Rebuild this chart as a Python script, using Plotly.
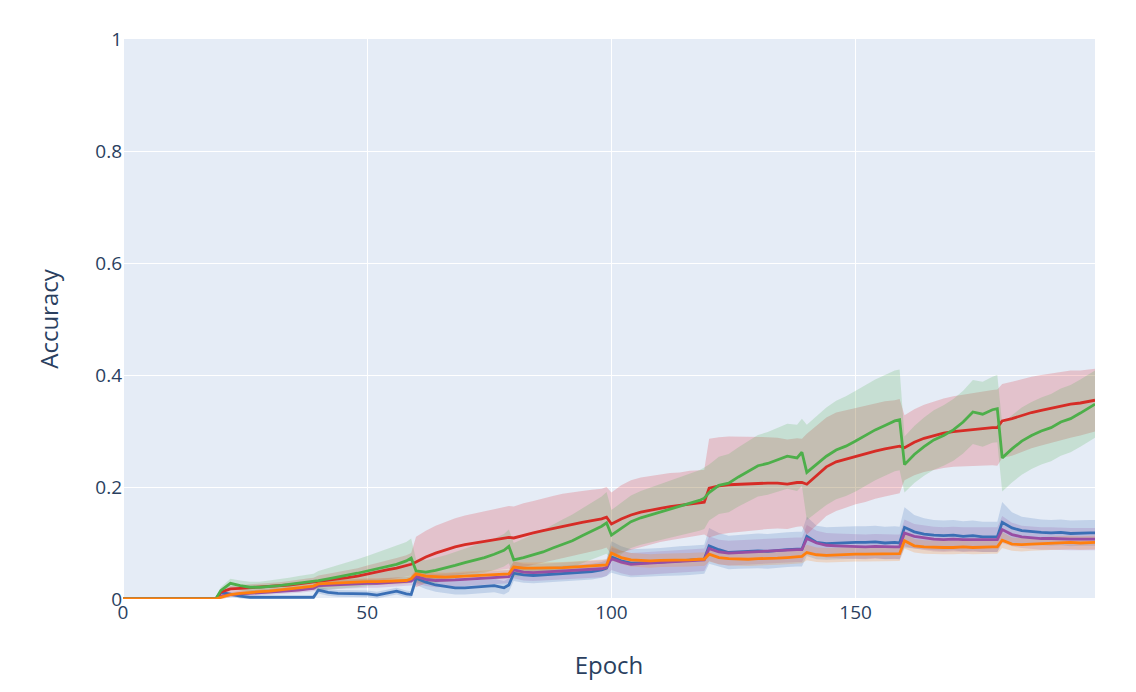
import plotly.graph_objects as go

# Epochs at which values are plotted
epochs = [0, 19,
          20, 22, 24, 26, 28, 30, 32, 34, 36, 38, 39,
          40, 42, 44, 46, 48, 50, 52, 54, 56, 58, 59,
          60, 62, 64, 66, 68, 70, 72, 74, 76, 78, 79,
          80, 82, 84, 86, 88, 90, 92, 94, 96, 98, 99,
          100, 102, 104, 106, 108, 110, 112, 114, 116, 118, 119,
          120, 122, 124, 126, 128, 130, 132, 134, 136, 138, 139,
          140, 142, 144, 146, 148, 150, 152, 154, 156, 158, 159,
          160, 162, 164, 166, 168, 170, 172, 174, 176, 178, 179,
          180, 182, 184, 186, 188, 190, 192, 194, 196, 198, 199]

blue_mean = [0, 0,
             0.012, 0.008, 0.005, 0.003, 0.003, 0.003, 0.003, 0.003, 0.003, 0.003, 0.003,
             0.016, 0.012, 0.010, 0.010, 0.009, 0.009, 0.007, 0.010, 0.014, 0.009, 0.008,
             0.037, 0.030, 0.025, 0.022, 0.020, 0.020, 0.021, 0.023, 0.024, 0.020, 0.025,
             0.046, 0.043, 0.042, 0.043, 0.044, 0.045, 0.046, 0.047, 0.049, 0.052, 0.055,
             0.075, 0.068, 0.064, 0.064, 0.065, 0.066, 0.067, 0.068, 0.069, 0.070, 0.071,
             0.095, 0.088, 0.083, 0.084, 0.085, 0.086, 0.085, 0.087, 0.088, 0.089, 0.089,
             0.112, 0.101, 0.099, 0.100, 0.100, 0.101, 0.101, 0.102, 0.100, 0.101, 0.100,
             0.128, 0.120, 0.116, 0.114, 0.113, 0.114, 0.112, 0.113, 0.111, 0.111, 0.111,
             0.137, 0.127, 0.122, 0.120, 0.119, 0.118, 0.119, 0.117, 0.118, 0.118, 0.118]
blue_std = [0, 0,
            0.004, 0.004, 0.004, 0.004, 0.004, 0.004, 0.004, 0.004, 0.004, 0.004, 0.004,
            0.006, 0.006, 0.006, 0.006, 0.006, 0.006, 0.006, 0.006, 0.006, 0.006, 0.006,
            0.012, 0.012, 0.012, 0.012, 0.012, 0.012, 0.012, 0.012, 0.012, 0.012, 0.012,
            0.014, 0.014, 0.014, 0.014, 0.014, 0.014, 0.014, 0.014, 0.014, 0.014, 0.014,
            0.028, 0.026, 0.025, 0.025, 0.025, 0.025, 0.026, 0.026, 0.026, 0.026, 0.026,
            0.032, 0.030, 0.030, 0.030, 0.030, 0.031, 0.031, 0.031, 0.031, 0.031, 0.031,
            0.035, 0.030, 0.029, 0.029, 0.029, 0.029, 0.029, 0.029, 0.029, 0.029, 0.029,
            0.036, 0.030, 0.028, 0.027, 0.027, 0.027, 0.027, 0.027, 0.027, 0.027, 0.027,
            0.036, 0.028, 0.025, 0.024, 0.023, 0.023, 0.023, 0.023, 0.023, 0.023, 0.023]

purple_mean = [0, 0,
               0.005, 0.008, 0.009, 0.010, 0.011, 0.012, 0.013, 0.015, 0.016, 0.018, 0.019,
               0.024, 0.025, 0.026, 0.027, 0.027, 0.028, 0.028, 0.029, 0.030, 0.031, 0.032,
               0.040, 0.035, 0.033, 0.033, 0.034, 0.035, 0.036, 0.037, 0.038, 0.039, 0.040,
               0.052, 0.048, 0.047, 0.048, 0.049, 0.050, 0.051, 0.052, 0.053, 0.054, 0.056,
               0.072, 0.066, 0.062, 0.063, 0.064, 0.065, 0.066, 0.067, 0.068, 0.069, 0.070,
               0.090, 0.084, 0.082, 0.083, 0.084, 0.085, 0.085, 0.086, 0.087, 0.088, 0.088,
               0.108, 0.100, 0.096, 0.095, 0.094, 0.093, 0.093, 0.094, 0.093, 0.093, 0.093,
               0.118, 0.112, 0.109, 0.107, 0.106, 0.107, 0.106, 0.106, 0.107, 0.106, 0.106,
               0.124, 0.115, 0.111, 0.109, 0.108, 0.108, 0.107, 0.107, 0.107, 0.107, 0.107]
purple_std = [0, 0,
              0.005, 0.005, 0.005, 0.005, 0.005, 0.005, 0.005, 0.005, 0.005, 0.005, 0.005,
              0.008, 0.008, 0.008, 0.008, 0.008, 0.008, 0.008, 0.008, 0.008, 0.008, 0.008,
              0.012, 0.012, 0.012, 0.012, 0.012, 0.012, 0.012, 0.012, 0.012, 0.012, 0.012,
              0.015, 0.015, 0.015, 0.015, 0.015, 0.015, 0.015, 0.015, 0.015, 0.015, 0.015,
              0.020, 0.020, 0.020, 0.020, 0.020, 0.020, 0.020, 0.020, 0.020, 0.020, 0.020,
              0.022, 0.022, 0.022, 0.022, 0.022, 0.022, 0.022, 0.022, 0.022, 0.022, 0.022,
              0.024, 0.022, 0.022, 0.022, 0.022, 0.022, 0.022, 0.022, 0.022, 0.022, 0.022,
              0.024, 0.022, 0.022, 0.022, 0.022, 0.022, 0.022, 0.022, 0.022, 0.022, 0.022,
              0.024, 0.021, 0.020, 0.020, 0.020, 0.020, 0.020, 0.020, 0.020, 0.020, 0.020]

orange_mean = [0, 0,
               0.003, 0.008, 0.010, 0.012, 0.013, 0.014, 0.016, 0.017, 0.019, 0.021, 0.023,
               0.027, 0.028, 0.029, 0.030, 0.030, 0.031, 0.031, 0.032, 0.032, 0.033, 0.036,
               0.045, 0.041, 0.040, 0.039, 0.040, 0.041, 0.042, 0.043, 0.043, 0.044, 0.045,
               0.057, 0.055, 0.055, 0.055, 0.056, 0.056, 0.057, 0.058, 0.059, 0.060, 0.061,
               0.082, 0.074, 0.070, 0.069, 0.068, 0.069, 0.069, 0.070, 0.070, 0.071, 0.071,
               0.080, 0.074, 0.072, 0.071, 0.071, 0.072, 0.072, 0.073, 0.074, 0.075, 0.076,
               0.083, 0.079, 0.078, 0.079, 0.079, 0.080, 0.080, 0.080, 0.081, 0.081, 0.081,
               0.104, 0.095, 0.093, 0.092, 0.092, 0.092, 0.093, 0.092, 0.093, 0.093, 0.093,
               0.105, 0.098, 0.097, 0.098, 0.099, 0.099, 0.100, 0.101, 0.100, 0.101, 0.101]
orange_std = [0, 0,
              0.004, 0.004, 0.004, 0.004, 0.004, 0.004, 0.004, 0.004, 0.004, 0.004, 0.004,
              0.006, 0.006, 0.006, 0.006, 0.006, 0.006, 0.006, 0.006, 0.006, 0.006, 0.006,
              0.008, 0.008, 0.008, 0.008, 0.008, 0.008, 0.008, 0.008, 0.008, 0.008, 0.008,
              0.010, 0.010, 0.010, 0.010, 0.010, 0.010, 0.010, 0.010, 0.010, 0.010, 0.010,
              0.013, 0.012, 0.012, 0.012, 0.012, 0.012, 0.012, 0.012, 0.012, 0.012, 0.012,
              0.013, 0.012, 0.012, 0.012, 0.012, 0.012, 0.012, 0.012, 0.012, 0.012, 0.012,
              0.014, 0.013, 0.013, 0.013, 0.013, 0.013, 0.013, 0.013, 0.013, 0.013, 0.013,
              0.014, 0.012, 0.012, 0.012, 0.012, 0.012, 0.012, 0.012, 0.012, 0.012, 0.012,
              0.014, 0.012, 0.012, 0.012, 0.012, 0.012, 0.012, 0.012, 0.012, 0.012, 0.012]

green_mean = [0, 0,
              0.015, 0.028, 0.024, 0.021, 0.021, 0.022, 0.024, 0.026, 0.028, 0.030, 0.031,
              0.033, 0.036, 0.039, 0.043, 0.046, 0.050, 0.054, 0.058, 0.062, 0.068, 0.073,
              0.050, 0.048, 0.051, 0.055, 0.060, 0.065, 0.069, 0.074, 0.080, 0.087, 0.094,
              0.070, 0.074, 0.079, 0.084, 0.091, 0.097, 0.104, 0.113, 0.121, 0.130, 0.136,
              0.114, 0.126, 0.138, 0.145, 0.150, 0.155, 0.160, 0.165, 0.170, 0.176, 0.180,
              0.190, 0.203, 0.207, 0.218, 0.228, 0.238, 0.242, 0.249, 0.255, 0.252, 0.262,
              0.226, 0.240, 0.255, 0.266, 0.273, 0.282, 0.292, 0.302, 0.310, 0.318, 0.320,
              0.240, 0.258, 0.272, 0.284, 0.292, 0.302, 0.316, 0.334, 0.330, 0.338, 0.340,
              0.252, 0.268, 0.282, 0.292, 0.300, 0.306, 0.316, 0.322, 0.332, 0.342, 0.348]
green_std = [0, 0,
             0.006, 0.008, 0.009, 0.010, 0.010, 0.011, 0.012, 0.012, 0.013, 0.014, 0.014,
             0.017, 0.019, 0.021, 0.023, 0.025, 0.027, 0.029, 0.031, 0.033, 0.034, 0.035,
             0.020, 0.021, 0.022, 0.023, 0.024, 0.025, 0.026, 0.027, 0.028, 0.029, 0.030,
             0.030, 0.033, 0.036, 0.039, 0.042, 0.045, 0.047, 0.049, 0.051, 0.053, 0.055,
             0.045, 0.046, 0.047, 0.048, 0.049, 0.050, 0.051, 0.052, 0.053, 0.054, 0.055,
             0.050, 0.051, 0.052, 0.053, 0.054, 0.055, 0.056, 0.057, 0.058, 0.059, 0.060,
             0.085, 0.086, 0.087, 0.088, 0.089, 0.090, 0.090, 0.090, 0.090, 0.090, 0.090,
             0.050, 0.051, 0.052, 0.053, 0.054, 0.055, 0.056, 0.057, 0.058, 0.059, 0.060,
             0.060, 0.060, 0.060, 0.060, 0.060, 0.060, 0.060, 0.060, 0.060, 0.060, 0.060]

red_mean = [0, 0,
            0.012, 0.018, 0.019, 0.020, 0.021, 0.022, 0.023, 0.025, 0.027, 0.029, 0.030,
            0.032, 0.034, 0.036, 0.038, 0.041, 0.045, 0.048, 0.052, 0.055, 0.059, 0.062,
            0.066, 0.075, 0.082, 0.088, 0.093, 0.097, 0.100, 0.103, 0.106, 0.108, 0.110,
            0.109, 0.114, 0.118, 0.122, 0.126, 0.130, 0.134, 0.137, 0.140, 0.143, 0.146,
            0.134, 0.143, 0.150, 0.155, 0.159, 0.162, 0.165, 0.167, 0.170, 0.172, 0.173,
            0.198, 0.202, 0.204, 0.205, 0.206, 0.206, 0.207, 0.207, 0.205, 0.208, 0.208,
            0.205, 0.220, 0.236, 0.245, 0.250, 0.255, 0.259, 0.264, 0.268, 0.271, 0.273,
            0.270, 0.280, 0.287, 0.292, 0.296, 0.299, 0.301, 0.303, 0.305, 0.306, 0.306,
            0.318, 0.322, 0.328, 0.333, 0.337, 0.341, 0.345, 0.348, 0.350, 0.353, 0.355]
red_std = [0, 0,
           0.005, 0.005, 0.006, 0.006, 0.006, 0.007, 0.007, 0.007, 0.008, 0.008, 0.008,
           0.010, 0.011, 0.012, 0.013, 0.014, 0.015, 0.016, 0.017, 0.018, 0.019, 0.020,
           0.045, 0.047, 0.049, 0.050, 0.051, 0.052, 0.053, 0.054, 0.055, 0.056, 0.056,
           0.056, 0.057, 0.057, 0.058, 0.058, 0.058, 0.057, 0.056, 0.055, 0.054, 0.054,
           0.056, 0.060, 0.062, 0.062, 0.061, 0.060, 0.060, 0.059, 0.059, 0.058, 0.058,
           0.088, 0.087, 0.086, 0.085, 0.084, 0.083, 0.082, 0.081, 0.080, 0.079, 0.078,
           0.090, 0.089, 0.088, 0.088, 0.087, 0.086, 0.086, 0.085, 0.085, 0.084, 0.084,
           0.058, 0.059, 0.060, 0.061, 0.062, 0.063, 0.064, 0.065, 0.066, 0.067, 0.068,
           0.066, 0.066, 0.065, 0.064, 0.063, 0.062, 0.061, 0.060, 0.058, 0.057, 0.056]

series = [
    ("blue", blue_mean, blue_std, "#3a6fb5", "rgba(55,110,184,0.2)"),
    ("purple", purple_mean, purple_std, "#984ea3", "rgba(152,78,163,0.2)"),
    ("red", red_mean, red_std, "#d62c26", "rgba(220,30,40,0.2)"),
    ("green", green_mean, green_std, "#4daf4a", "rgba(77,175,74,0.2)"),
    ("orange", orange_mean, orange_std, "#ff7f0e", "rgba(255,127,14,0.2)"),
]

fig = go.Figure()
for name, m, s, col, fill in series:
    upper = [a + b for a, b in zip(m, s)]
    lower = [a - b for a, b in zip(m, s)]
    fig.add_trace(go.Scatter(x=epochs, y=upper, mode="lines", line=dict(width=0),
                             showlegend=False, hoverinfo="skip"))
    fig.add_trace(go.Scatter(x=epochs, y=lower, mode="lines", line=dict(width=0),
                             fill="tonexty", fillcolor=fill, showlegend=False,
                             hoverinfo="skip"))
for name, m, s, col, fill in series:
    fig.add_trace(go.Scatter(x=epochs, y=m, mode="lines", name=name,
                             line=dict(color=col, width=2.8), showlegend=False))

fig.update_layout(
    width=1136, height=692,
    template="plotly",
    margin=dict(l=123, r=41, t=39, b=93),
    font=dict(family="Open Sans", size=19, color="#2a3f5f"),
    showlegend=False,
)
fig.update_xaxes(title=dict(text="Epoch", font=dict(size=24), standoff=33),
                 range=[0, 199], dtick=50)
fig.update_yaxes(title=dict(text="Accuracy", font=dict(size=24), standoff=29),
                 range=[0, 1])

fig.write_html("out.html")
